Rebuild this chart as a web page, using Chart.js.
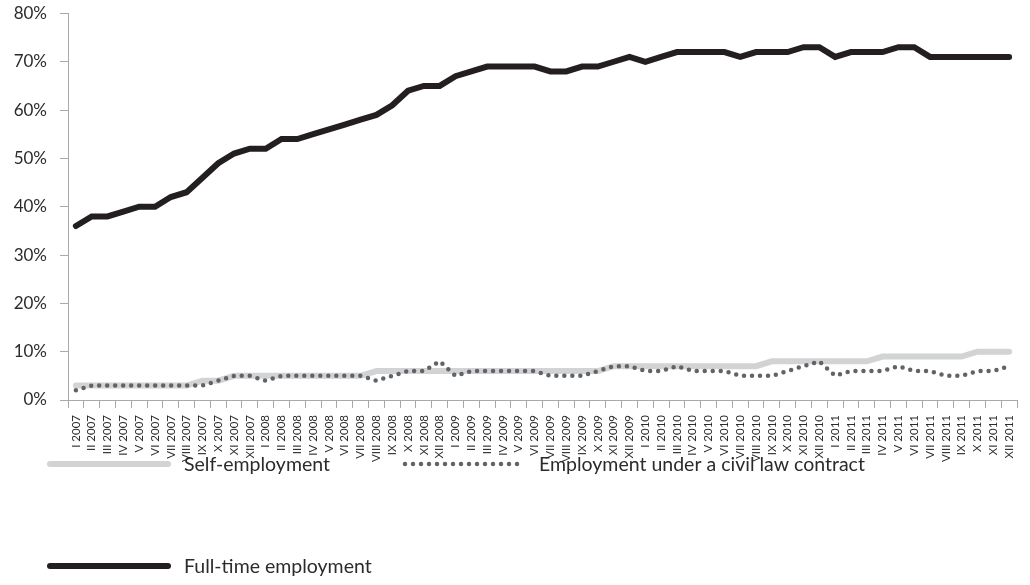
<!DOCTYPE html>
<html>
<head>
<meta charset="utf-8">
<script src="https://cdn.jsdelivr.net/npm/chart.js@4.4.4/dist/chart.umd.min.js"></script>
<style>
  html, body { margin: 0; padding: 0; background: #fff; }
  #wrap { width: 1030px; height: 585px; position: relative; }
</style>
</head>
<body>
<div id="wrap"><canvas id="chart"></canvas></div>
<script>
// ─── Data ────────────────────────────────────────────────────────────────────

const MONTHS = ['I', 'II', 'III', 'IV', 'V', 'VI', 'VII', 'VIII', 'IX', 'X', 'XI', 'XII'];
const YEARS = [2007, 2008, 2009, 2010, 2011];
const LABELS = YEARS.flatMap(y => MONTHS.map(m => m + ' ' + y));

// share of respondents, % (monthly, I 2007 – XII 2011)
const SELF_EMPLOYMENT = [
    3, 3, 3, 3, 3, 3, 3, 3, 4, 4, 5, 5,
    5, 5, 5, 5, 5, 5, 5, 6, 6, 6, 6, 6,
    6, 6, 6, 6, 6, 6, 6, 6, 6, 6, 7, 7,
    7, 7, 7, 7, 7, 7, 7, 7, 8, 8, 8, 8,
    8, 8, 8, 9, 9, 9, 9, 9, 9, 10, 10, 10
];
const CIVIL_CONTRACT = [
    2, 3, 3, 3, 3, 3, 3, 3, 3, 4, 5, 5,
    4, 5, 5, 5, 5, 5, 5, 4, 5, 6, 6, 8,
    5, 6, 6, 6, 6, 6, 5, 5, 5, 6, 7, 7,
    6, 6, 7, 6, 6, 6, 5, 5, 5, 6, 7, 8,
    5, 6, 6, 6, 7, 6, 6, 5, 5, 6, 6, 7
];
const FULL_TIME = [
    36, 38, 38, 39, 40, 40, 42, 43, 46, 49, 51, 52,
    52, 54, 54, 55, 56, 57, 58, 59, 61, 64, 65, 65,
    67, 68, 69, 69, 69, 69, 68, 68, 69, 69, 70, 71,
    70, 71, 72, 72, 72, 72, 71, 72, 72, 72, 73, 73,
    71, 72, 72, 72, 73, 73, 71, 71, 71, 71, 71, 71
];
const SERIES_NAMES = ['Self-employment', 'Employment under a civil law contract', 'Full-time employment'];

const FONT = "Lato, 'Open Sans', sans-serif";
const AXIS_COLOR = '#a7a9ac';
const TEXT_COLOR = '#2b2b2b';

// ─── Legend (drawn under the axis, two columns) ─────────────────────────────

const bottomLegend = {
    id: 'bottomLegend',
    afterDraw(chart) {
        const { ctx } = chart;
        const slots = [
            { x: 48, y: 464 },
            { x: 403, y: 464 },
            { x: 48, y: 566 }
        ];
        chart.data.datasets.forEach((ds, i) => {
            const s = slots[i];
            ctx.save();
            ctx.strokeStyle = ds.borderColor;
            ctx.lineWidth = ds.borderWidth;
            ctx.lineCap = ds.borderCapStyle || 'butt';
            ctx.setLineDash(ds.borderDash || []);
            ctx.beginPath();
            ctx.moveTo(s.x + 2, s.y);
            ctx.lineTo(s.x + 120, s.y);
            ctx.stroke();
            ctx.setLineDash([]);
            ctx.fillStyle = TEXT_COLOR;
            ctx.font = '19.5px ' + FONT;
            ctx.textBaseline = 'middle';
            ctx.textAlign = 'left';
            ctx.fillText(ds.label, s.x + 136, s.y + 1);
            ctx.restore();
        });
    }
};

// ─── Chart ──────────────────────────────────────────────────────────────────

new Chart(document.getElementById('chart'), {
    type: 'line',
    data: {
        labels: LABELS,
        datasets: [
            {
                label: SERIES_NAMES[0],
                data: SELF_EMPLOYMENT,
                borderColor: '#d1d3d4',
                borderWidth: 6,
                borderCapStyle: 'round',
                pointRadius: 0,
                tension: 0,
                order: 3
            },
            {
                label: SERIES_NAMES[1],
                data: CIVIL_CONTRACT,
                borderColor: '#626366',
                borderWidth: 4.5,
                borderDash: [0, 8],
                borderCapStyle: 'round',
                pointRadius: 0,
                tension: 0,
                order: 2
            },
            {
                label: SERIES_NAMES[2],
                data: FULL_TIME,
                borderColor: '#231f20',
                borderWidth: 6,
                borderCapStyle: 'round',
                pointRadius: 0,
                tension: 0,
                order: 1
            }
        ]
    },
    options: {
        responsive: true,
        maintainAspectRatio: false,
        animation: false,
        layout: { padding: { top: 13, right: 11, left: 0, bottom: 0 } },
        plugins: {
            legend: { display: false },
            tooltip: { enabled: false }
        },
        scales: {
            x: {
                offset: true,
                grid: {
                    offset: true,
                    drawOnChartArea: false,
                    tickLength: 8,
                    color: AXIS_COLOR
                },
                border: { color: AXIS_COLOR, width: 1 },
                ticks: {
                    autoSkip: false,
                    minRotation: 90,
                    maxRotation: 90,
                    padding: 7,
                    color: TEXT_COLOR,
                    font: { family: FONT, size: 11.5 }
                },
                afterFit: s => { s.height = 185; }
            },
            y: {
                min: 0,
                max: 80,
                grid: {
                    drawOnChartArea: false,
                    tickLength: 8,
                    color: AXIS_COLOR
                },
                border: { color: AXIS_COLOR, width: 1 },
                ticks: {
                    stepSize: 10,
                    padding: 13,
                    color: TEXT_COLOR,
                    // tiny lineHeight keeps the axis top padding from growing
                    font: { family: FONT, size: 17, lineHeight: 0.05 },
                    callback: v => v + '%'
                },
                afterFit: s => { s.width = 68; }
            }
        }
    },
    plugins: [bottomLegend]
});
</script>
</body>
</html>
